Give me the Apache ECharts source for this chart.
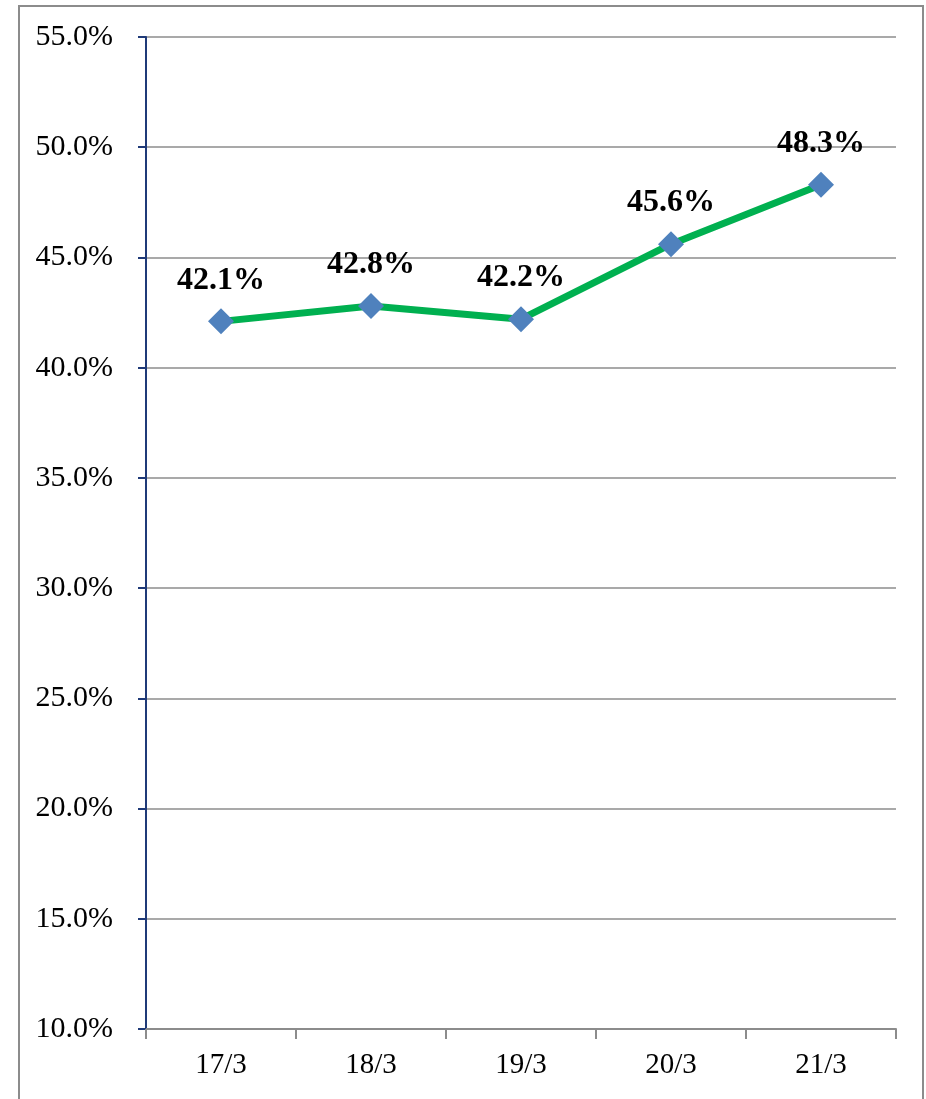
<!DOCTYPE html>
<html><head><meta charset="utf-8">
<script src="https://cdn.jsdelivr.net/npm/echarts@6/dist/echarts.min.js"></script>
<style>
html,body{margin:0;padding:0;background:#fff;}
#frame{position:absolute;left:18px;top:5px;width:906px;height:1100px;border:2px solid #8c8c8c;box-sizing:border-box;}
#c{position:absolute;left:0;top:0;width:926px;height:1099px;}
</style>
</head><body>
<div id="frame"></div>
<div id="c"></div>
<script>
const categories = ['17/3','18/3','19/3','20/3','21/3'];
const values = [42.1, 42.8, 42.2, 45.6, 48.3];
const yMin = 10, yMax = 55, yStep = 5;

const chart = echarts.init(document.getElementById('c'));
chart.setOption({
  animation:false,
  grid:{left:146, right:30, top:37, bottom:70, containLabel:false},
  xAxis:{
    type:'category', data:categories, boundaryGap:true,
    axisLine:{lineStyle:{color:'#8c8c8c', width:2}},
    axisTick:{show:true, length:10, alignWithLabel:false, lineStyle:{color:'#8c8c8c', width:2}},
    axisLabel:{color:'#000', fontFamily:'Liberation Serif', fontSize:29, margin:22}
  },
  yAxis:{
    type:'value', min:yMin, max:yMax, interval:yStep,
    axisLine:{show:true, lineStyle:{color:'#1f3a78', width:2}},
    axisTick:{show:true, length:8, lineStyle:{color:'#1f3a78', width:2}},
    splitLine:{show:true, lineStyle:{color:'#8c8c8c', width:1.5}},
    axisLabel:{color:'#000', fontFamily:'Liberation Serif', fontSize:30, margin:33,
      formatter:v=>v.toFixed(1)+'%'}
  },
  series:[{
    type:'line', data:values,
    lineStyle:{color:'#00b050', width:7},
    itemStyle:{color:'#4f81bd'},
    symbol:'diamond', symbolSize:26,
    label:{show:true, position:'top', distance:12, color:'#000',
      fontFamily:'Liberation Serif', fontWeight:'bold', fontSize:32,
      formatter:p=>p.value.toFixed(1)+'%'}
  }]
});
</script>
</body></html>
